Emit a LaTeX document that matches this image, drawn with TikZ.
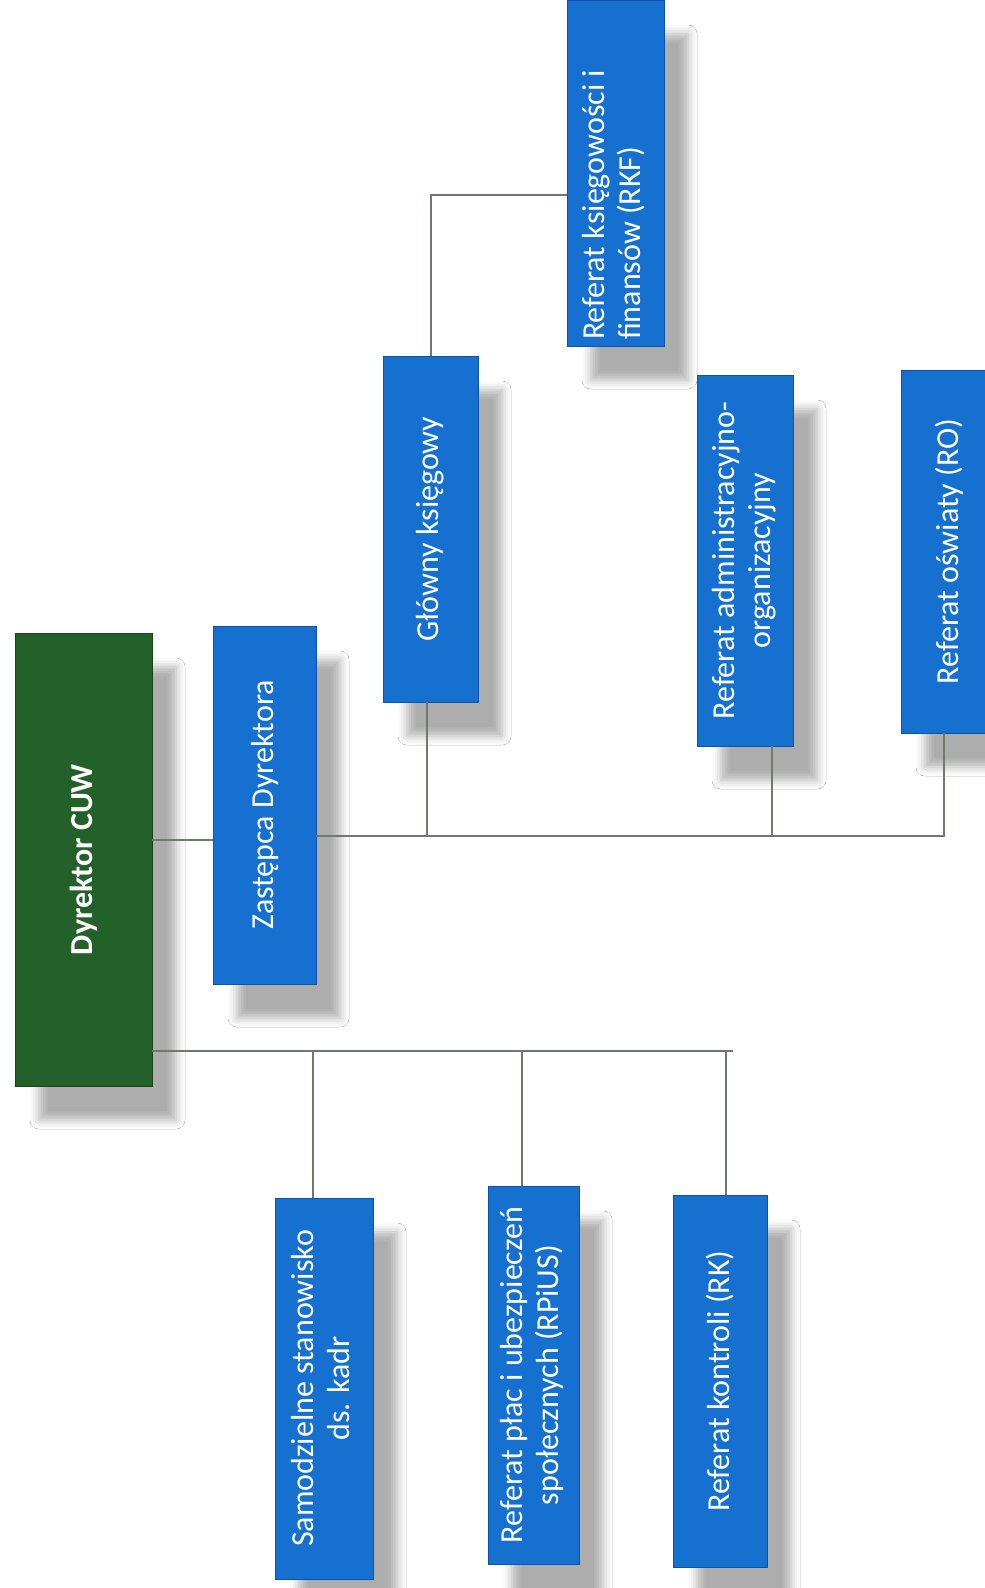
\documentclass[tikz,border=0pt]{standalone}
\usepackage{graphicx}
\usepackage{fontspec}
\newfontfamily\boxfont{Carlito}
\usetikzlibrary{shadows.blur}
\definecolor{boxblue}{RGB}{22,112,208}
\definecolor{boxedge}{RGB}{12,82,170}
\definecolor{dyrgreen}{RGB}{36,96,42}
\definecolor{dyredge}{RGB}{22,66,28}
\definecolor{linegray}{RGB}{112,120,112}
\begin{document}
\begin{tikzpicture}[x=1pt,y=-1pt,
  box/.style={draw=boxedge, fill=boxblue, text=white, inner sep=0pt, line width=0.8pt,
    font=\boxfont\fontsize{32}{36}\selectfont,
    blur shadow={shadow xshift=24pt, shadow yshift=-34pt, shadow blur radius=9pt,
      shadow opacity=32}},
  topbox/.style={box, fill=dyrgreen, draw=dyredge,
    font=\boxfont\bfseries\fontsize{32}{36}\selectfont},
  link/.style={draw=linegray, line width=1.2pt}]

  \clip (0,0) rectangle (985,1588);
  \fill[white] (0,0) rectangle (985,1588);

  % Nodes
  \node[topbox, minimum width=137, minimum height=453] at(83.5,859.5)(dyr){\rotatebox{90}{Dyrektor CUW}};
  \node[box, minimum width=103, minimum height=358] at(264.5,805)(zast){\rotatebox{90}{Zastępca Dyrektora}};
  \node[box, minimum width=95, minimum height=346] at(430.5,529)(glowny){\rotatebox{90}{Główny księgowy}};
  \node[box, minimum width=97, minimum height=346] at(615.5,173)(rkf){\rotatebox{90}{\begin{tabular}{@{}l@{}}Referat księgowości i\\finansów (RKF)\end{tabular}\hspace{64pt}}};
  \node[box, minimum width=96, minimum height=371] at(745,560.5)(admin){\rotatebox{90}{\begin{tabular}{@{}c@{}}Referat administracyjno-\\organizacyjny\end{tabular}}};
  \node[box, minimum width=96, minimum height=363] at(949,551.5)(ro){\rotatebox{90}{Referat oświaty (RO)}};

  \node[box, minimum width=98, minimum height=381] at(324,1388.5)(samo){\rotatebox{90}{\begin{tabular}{@{}c@{}}Samodzielne stanowisko\\ds. kadr\end{tabular}}};
  \node[box, minimum width=91, minimum height=378] at(533.5,1375)(rplac){\rotatebox{90}{\begin{tabular}{@{}c@{}}Referat płac i ubezpieczeń\\społecznych (RPiUS)\end{tabular}}};
  \node[box, minimum width=94, minimum height=372] at(720,1381)(rk){\rotatebox{90}{Referat kontroli (RK)}};

  % bus taps
  \coordinate (tZ) at (0,840);
  \coordinate (tG) at (427,836);
  \coordinate (tA) at (772,836);
  \coordinate (tR) at (944,836);
  \coordinate (tK) at (431,195);
  \coordinate (tS) at (313,1051);
  \coordinate (tP) at (522,1051);
  \coordinate (tC) at (726,1051);
  \coordinate (tE) at (733,1051);

  % connects
  \draw[link] (dyr.east |- tZ) -- (zast.west |- tZ);
  \draw[link] (zast.east |- tR) -- (tR) -- (ro.south -| tR);
  \draw[link] (glowny.south -| tG) -- (tG);
  \draw[link] (admin.south -| tA) -- (tA);
  \draw[link] (glowny.north -| tK) -- (tK) -- (rkf.west |- tK);

  \draw[link] (dyr.east |- tE) -- (tE);
  \draw[link] (tS) -- (samo.north -| tS);
  \draw[link] (tP) -- (rplac.north -| tP);
  \draw[link] (tC) -- (rk.north -| tC);

\end{tikzpicture}
\end{document}
